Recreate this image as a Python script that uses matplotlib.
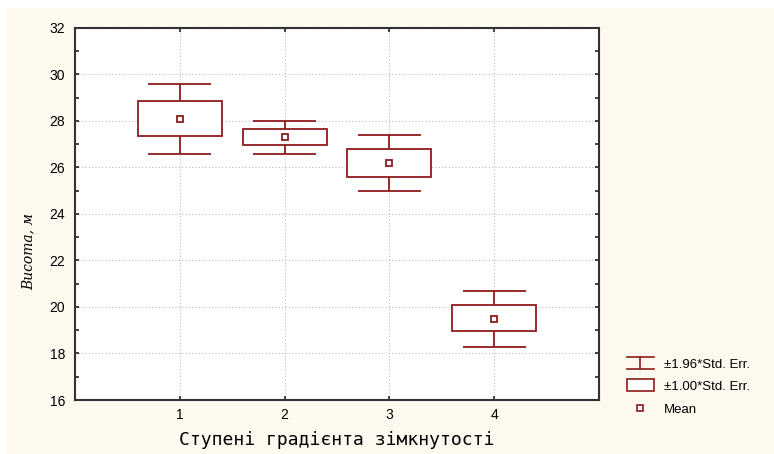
import matplotlib
matplotlib.use('Agg')
import matplotlib.pyplot as plt
from matplotlib.patches import Rectangle
from matplotlib.lines import Line2D
from matplotlib.legend_handler import HandlerBase
from matplotlib.ticker import MultipleLocator

# ступені градієнта зімкнутості
groups = [1, 2, 3, 4]
means = [28.1, 27.3, 26.2, 19.5]
se_low = [27.35, 26.95, 25.6, 18.95]     # mean - 1.00*SE
se_high = [28.85, 27.65, 26.8, 20.1]     # mean + 1.00*SE
ci_low = [26.6, 26.6, 25.0, 18.3]        # mean - 1.96*SE
ci_high = [29.6, 28.0, 27.4, 20.7]       # mean + 1.96*SE

legend_labels = ['±1.96*Std. Err.', '±1.00*Std. Err.', 'Mean']

red = '#8E1B1B'
cream = '#FDF9EE'
box_w = 0.8
cap_w = 0.6

plt.rcParams['font.family'] = ['Liberation Sans', 'DejaVu Sans']

fig = plt.figure(figsize=(7.74, 4.54), dpi=100)
fig.patch.set_facecolor('white')
fig.add_artist(Rectangle((6 / 774, 0), 1, 1 - 8 / 454, transform=fig.transFigure,
                         facecolor=cream, edgecolor='none', zorder=-10))

ax = fig.add_axes([75 / 774, 1 - 400 / 454, 524 / 774, 372 / 454])
ax.set_facecolor('white')

for g, m, sl, sh, cl, ch in zip(groups, means, se_low, se_high, ci_low, ci_high):
    # вуса (1.96*SE)
    ax.vlines(g, cl, sl, color=red, lw=1.3, zorder=3)
    ax.vlines(g, sh, ch, color=red, lw=1.3, zorder=3)
    ax.hlines([cl, ch], g - cap_w / 2, g + cap_w / 2, color=red, lw=1.3, zorder=3)
    # прямокутник (1.00*SE)
    ax.add_patch(Rectangle((g - box_w / 2, sl), box_w, sh - sl,
                           facecolor='white', edgecolor=red, lw=1.3, zorder=3))

ax.plot(groups, means, linestyle='none', marker='s', markersize=5,
        markerfacecolor='white', markeredgecolor=red, markeredgewidth=1.3, zorder=4)

ax.set_xlim(0, 5)
ax.set_ylim(16, 32)
ax.set_xticks(groups)
ax.yaxis.set_major_locator(MultipleLocator(2))
ax.yaxis.set_minor_locator(MultipleLocator(1))
ax.grid(True, which='major', color='#BBBBBB', linestyle=(0, (1, 2)), linewidth=0.8)
ax.tick_params(which='both', direction='in', top=True, right=True, labelsize=10,
               color='#222222')
ax.tick_params(which='major', length=3, width=1.2)
ax.tick_params(which='minor', length=3, width=1.2)
ax.tick_params(axis='y', pad=7)
ax.tick_params(axis='x', pad=6)
for s in ax.spines.values():
    s.set_linewidth(1.5)
    s.set_color('#333333')

ax.set_xlabel('Ступені градієнта зімкнутості', family='DejaVu Sans Mono', fontsize=13)
ax.xaxis.set_label_coords(0.5, -0.083)
ax.set_ylabel('Висота, м', family='DejaVu Serif', style='italic', fontsize=10)
ax.yaxis.set_label_coords(-0.076, 0.40)


class CapHandler(HandlerBase):
    def create_artists(self, legend, orig_handle, xdescent, ydescent, width, height,
                       fontsize, trans):
        x0, x1 = -xdescent, -xdescent + width
        y0, y1 = -ydescent - 1, -ydescent + height + 1
        xm = (x0 + x1) / 2
        kw = dict(color=red, lw=1.2, transform=trans)
        return [Line2D([x0, x1], [y1, y1], **kw),
                Line2D([x0, x1], [y0, y0], **kw),
                Line2D([xm, xm], [y0, y1], **kw)]


class BoxHandler(HandlerBase):
    def create_artists(self, legend, orig_handle, xdescent, ydescent, width, height,
                       fontsize, trans):
        r = Rectangle((-xdescent, -ydescent - 1), width, height + 2, facecolor='white',
                      edgecolor=red, lw=1.2, transform=trans)
        return [r]


cap_h = Line2D([], [])
box_h = Rectangle((0, 0), 1, 1)
mean_h = Line2D([], [], linestyle='none', marker='s', markersize=5,
                markerfacecolor='white', markeredgecolor=red, markeredgewidth=1.2)

fig.legend([cap_h, box_h, mean_h], legend_labels,
           handler_map={cap_h: CapHandler(), box_h: BoxHandler()},
           loc='upper left', bbox_to_anchor=(622 / 774, 1 - 353 / 454),
           frameon=False, fontsize=9.5, handlelength=2.0, handletextpad=0.75,
           labelspacing=0.78, borderaxespad=0)

fig.savefig('out.png', dpi=100)
